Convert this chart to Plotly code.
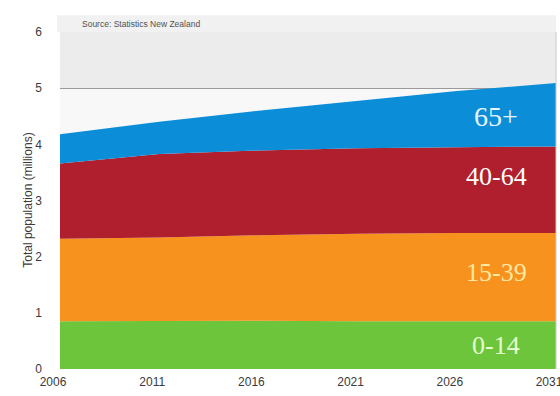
import plotly.graph_objects as go

# Projected New Zealand population by age group (millions)
years = [2006, 2011, 2016, 2021, 2026, 2031]
age_0_14 = [0.85, 0.86, 0.86, 0.85, 0.85, 0.85]
age_15_39 = [1.47, 1.48, 1.52, 1.56, 1.57, 1.57]
age_40_64 = [1.34, 1.49, 1.51, 1.52, 1.53, 1.54]
age_65_plus = [0.52, 0.57, 0.71, 0.85, 1.00, 1.13]

groups = ["0-14", "15-39", "40-64", "65+"]
series = [age_0_14, age_15_39, age_40_64, age_65_plus]
colors = ["#6cc53b", "#f7921e", "#b01f2e", "#0b8dd8"]
label_colors = ["#e6ffd2", "#ffe8a0", "#ffffff", "#e8f6ff"]
label_sizes = [26, 26, 26, 28]
label_nudge = [0, 5, 13, 0]  # vertical pixel nudge for each band label

y_ticks = [0, 1, 2, 3, 4, 5, 6]
x_ticks = [2006, 2011, 2016, 2021, 2026, 2031]

fig = go.Figure()
for name, vals, col in zip(groups, series, colors):
    fig.add_trace(go.Scatter(
        x=years, y=vals, name=name, mode="lines",
        stackgroup="pop", line=dict(width=0, color=col),
        fillcolor=col, showlegend=False, hoverinfo="x+y+name",
    ))

# Band labels placed near the right end, centred in each band
cum = [0.0] * len(years)
for name, vals, lc, fs, nudge in zip(groups, series, label_colors, label_sizes, label_nudge):
    lo = cum[-2]
    hi = lo + vals[-2]
    lo_end = cum[-1]
    hi_end = lo_end + vals[-1]
    mid = ((lo + hi) / 2 + (lo_end + hi_end) / 2) / 2
    fig.add_annotation(
        x=2028.0, y=mid, text=name, showarrow=False, yshift=nudge,
        font=dict(family="Liberation Serif", size=fs, color=lc),
    )
    cum = [c + v for c, v in zip(cum, vals)]

# Light panel backgrounds
fig.add_shape(type="rect", xref="paper", yref="paper",
              x0=-0.006, x1=1.0, y0=1.0, y1=1.05,
              fillcolor="#f1f1f1", line=dict(width=0), layer="below")
fig.add_shape(type="rect", xref="x", yref="y",
              x0=2006, x1=2031, y0=5, y1=6,
              fillcolor="#ececec", line=dict(width=0), layer="below")
fig.add_shape(type="rect", xref="x", yref="y",
              x0=2006, x1=2031, y0=0, y1=5,
              fillcolor="#f8f8f8", line=dict(width=0), layer="below")

fig.add_annotation(
    xref="paper", yref="paper", x=0.04, y=1.003, xanchor="left", yanchor="bottom",
    text="Source: Statistics New Zealand", showarrow=False,
    font=dict(family="Liberation Sans Narrow, Liberation Sans", size=8.5, color="#505050"),
)

# Y-axis title, set close to the tick labels
fig.add_annotation(
    xref="paper", yref="paper", x=-0.066, y=0.5, xanchor="center", yanchor="middle",
    text="Total population (millions)", textangle=-90, showarrow=False,
    font=dict(family="Liberation Sans Narrow, Liberation Sans", size=12, color="#3a3a3a"),
)

fig.update_layout(
    width=560, height=396,
    margin=dict(l=60, r=4, t=32, b=27, autoexpand=False),
    paper_bgcolor="white", plot_bgcolor="#f8f8f8",
    font=dict(family="Liberation Sans Narrow, Liberation Sans", size=12, color="#3a3a3a"),
    xaxis=dict(
        range=[2006, 2031], tickvals=x_ticks, ticktext=[str(t) for t in x_ticks],
        showgrid=False, zeroline=False, showline=False, ticks="",
        tickfont=dict(size=12, color="#3a3a3a"), automargin=False,
        ticklabeloverflow="allow", ticklabelshift=-7, ticklabelstandoff=4,
    ),
    yaxis=dict(
        range=[0, 6], tickvals=y_ticks, showgrid=True, gridcolor="#9a9a9a",
        gridwidth=1, zeroline=False, showline=False, ticks="",
        tickfont=dict(size=12, color="#3a3a3a"), ticklabelstandoff=17,
        automargin=False,
    ),
)
fig.add_shape(type="line", xref="paper", yref="paper", x0=1, x1=1, y0=0, y1=1,
              line=dict(color="#c8c8c8", width=1))

fig.write_html("out.html")
